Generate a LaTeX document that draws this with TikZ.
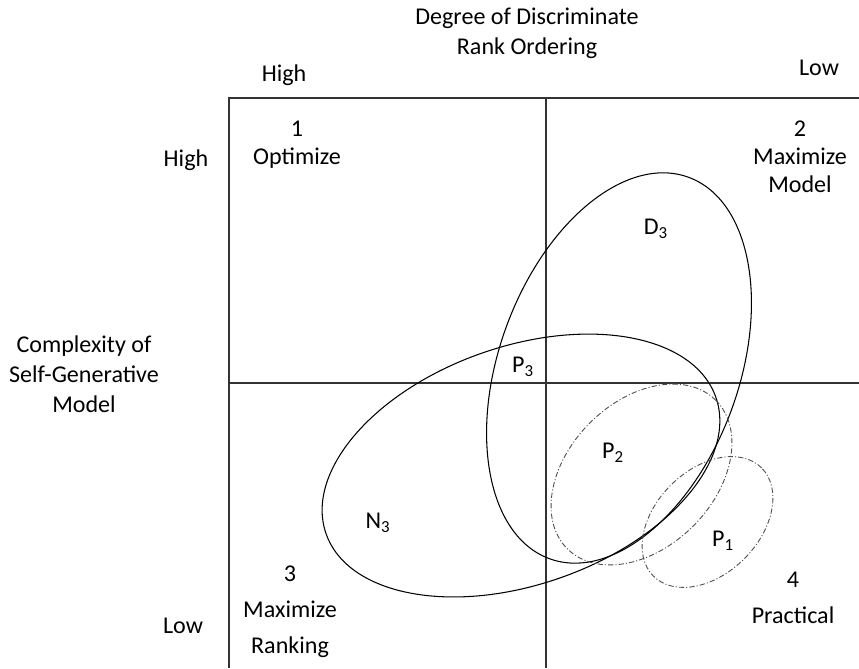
\documentclass[tikz,border=0pt]{standalone}
\usepackage{fontspec}
\setmainfont{Carlito}
\usepackage{xcolor}

\begin{document}
\begin{tikzpicture}[
    axisline/.style={
        draw=black!80,
        line width=0.75pt
    },
    region/.style={
        draw=black,
        line width=0.6pt
    },
    subregion/.style={
        draw=black!70,
        line width=0.5pt,
        dash pattern=on 3pt off 1.2pt on 0.6pt off 1.2pt
    },
    label/.style={
        align=center,
        inner sep=0pt,
        font=\fontsize{13.7}{16}\selectfont
    },
    widelabel/.style={
        label,
        font=\fontsize{13.7}{17.2}\selectfont
    }
]
\useasboundingbox (0,0) rectangle (17.18,13.36);

% Frame and quadrant lines
\coordinate (topleft) at (4.58,11.40);
\coordinate (topright) at (17.18,11.40);
\coordinate (bottomleft) at (4.58,0);
\coordinate (midtop) at (10.92,11.40);
\coordinate (midbottom) at (10.92,0);
\coordinate (midleft) at (4.58,5.70);
\coordinate (midright) at (17.18,5.70);

\draw[axisline] (bottomleft) -- (topleft) -- (topright);
\draw[axisline] (midtop) -- (midbottom);
\draw[axisline] (midleft) -- (midright);

% Axis titles
\node[widelabel] (rankaxis) at (10.54,12.70) {Degree of Discriminate\\Rank Ordering};
\node[label] (rankhigh) at (5.68,11.86) {High};
\node[label] (ranklow) at (16.38,12.00) {Low};
\node[widelabel] (modelaxis) at (1.68,5.88) {Complexity of\\Self-Generative\\Model};
\node[label] (modelhigh) at (3.72,10.16) {High};
\node[label] (modellow) at (3.66,0.84) {Low};

% Quadrant names
\node[label] (quadone) at (5.94,10.46) {1\\Optimize};
\node[label] (quadtwo) at (16.00,10.22) {2\\Maximize\\Model};
\node[label] (quadthree) at (5.80,1.12) {3\\[4.5pt]Maximize\\[4.5pt]Ranking};
\node[label] (quadfour) at (15.86,1.40) {4\\[4.5pt]Practical};

% Regions
\coordinate (dcenter) at (12.38,6.00);
\coordinate (ncenter) at (10.42,4.05);
\coordinate (ptwocenter) at (12.83,3.87);
\coordinate (ponecenter) at (14.15,2.92);

\draw[region, rotate around={70:(dcenter)}] (dcenter) ellipse (4.06 and 2.40);
\draw[region, rotate around={19.3:(ncenter)}] (ncenter) ellipse (4.13 and 2.38);
\draw[subregion, rotate around={45:(ptwocenter)}] (ptwocenter) ellipse (2.10 and 1.46);
\draw[subregion, rotate around={45:(ponecenter)}] (ponecenter) ellipse (1.53 and 1.04);

\node[label] (dthree) at (13.12,8.78) {D\textsubscript{3}};
\node[label] (pthree) at (10.46,6.02) {P\textsubscript{3}};
\node[label] (ptwo) at (12.26,4.30) {P\textsubscript{2}};
\node[label] (nthree) at (7.56,2.90) {N\textsubscript{3}};
\node[label] (pone) at (14.46,2.54) {P\textsubscript{1}};

\end{tikzpicture}
\end{document}
